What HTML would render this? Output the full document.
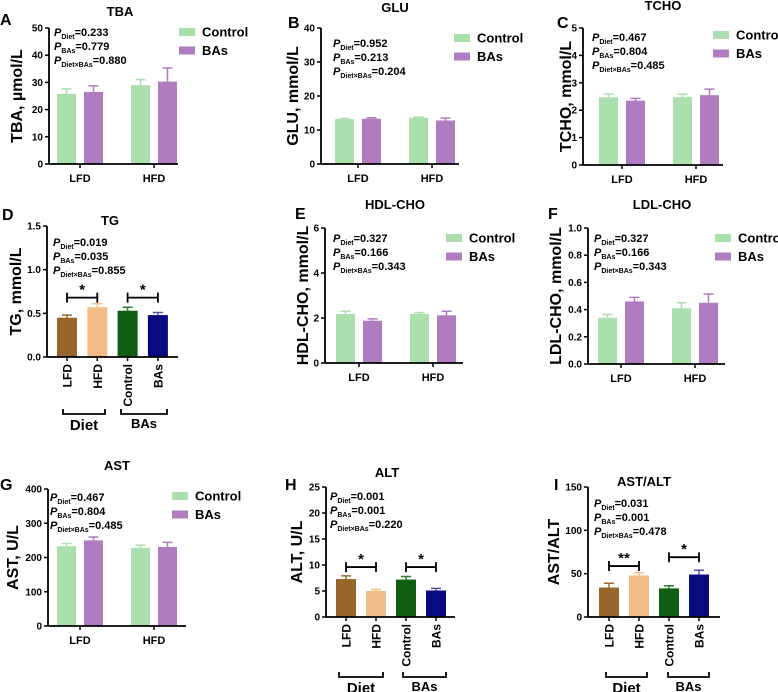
<!DOCTYPE html>
<html><head><meta charset="utf-8">
<style>
html,body{margin:0;padding:0;background:#fff;}
svg{display:block;font-family:"Liberation Sans",Arial,sans-serif;font-weight:bold;}
</style></head>
<body>
<svg id="fig" width="778" height="692" viewBox="0 0 778 692" xmlns="http://www.w3.org/2000/svg"></svg>
<script>
// ---- data arrays ----
const groupCats = ["LFD","HFD"];
const fourCats = ["LFD","HFD","Control","BAs"];
const seriesNames = ["Control","BAs"];
const tbaValues = [25.8,26.5,29.0,30.3];
const tbaErrors = [1.8,2.2,2.0,5.0];
const tbaTicks = [0,10,20,30,40,50];
const tbaP = ["0.233","0.779","0.880"];
const gluValues = [13.2,13.3,13.6,12.8];
const gluErrors = [0.2,0.3,0.2,0.7];
const gluTicks = [0,10,20,30,40];
const gluP = ["0.952","0.213","0.204"];
const tchoValues = [2.47,2.35,2.48,2.55];
const tchoErrors = [0.12,0.08,0.10,0.22];
const tchoTicks = [0,1,2,3,4,5];
const tchoP = ["0.467","0.804","0.485"];
const tgValues = [0.45,0.57,0.53,0.48];
const tgErrors = [0.03,0.04,0.04,0.03];
const tgTicks = ["0.0","0.5","1.0","1.5"];
const tgP = ["0.019","0.035","0.855"];
const hdlValues = [2.18,1.88,2.18,2.12];
const hdlErrors = [0.12,0.08,0.06,0.18];
const hdlTicks = [0,2,4,6];
const hdlP = ["0.327","0.166","0.343"];
const ldlValues = [0.34,0.46,0.41,0.45];
const ldlErrors = [0.025,0.03,0.04,0.065];
const ldlTicks = ["0.0","0.2","0.4","0.6","0.8","1.0"];
const ldlP = ["0.327","0.166","0.343"];
const astValues = [233,250,228,231];
const astErrors = [8,10,8,13];
const astTicks = [0,100,200,300,400];
const astP = ["0.467","0.804","0.485"];
const altValues = [7.3,5.0,7.2,5.1];
const altErrors = [0.6,0.3,0.6,0.4];
const altTicks = [0,5,10,15,20,25];
const altP = ["0.001","0.001","0.220"];
const ratioValues = [34,48,33,49];
const ratioErrors = [5,3,3,5];
const ratioTicks = [0,50,100,150];
const ratioP = ["0.031","0.001","0.478"];
const tgSig = [["*",0.68],["*",0.68]];
const altSig = [["*",9.6],["*",9.6]];
const ratioSig = [["**",58.8],["*",69]];

const NS="http://www.w3.org/2000/svg";
const svg=document.getElementById('fig');
function el(tag,attrs,parent,text){const e=document.createElementNS(NS,tag);for(const k in attrs)e.setAttribute(k,attrs[k]);if(text!==undefined)e.textContent=text;(parent||svg).appendChild(e);return e;}

const GREEN="#acdfae",PURPLE="#b07cc0";
const FOUR=["#98662a","#f2bc86","#0f5e14","#0a0a80"];
const FOURERR=["#9b6a2c","#f2c08e","#2f7a32","#5555a8"];

const panels=[
 {id:"tba",letter:"A",lx:0,ly:25,title:"TBA",tx:120,ty:16,yt:"TBA, µmol/L",ytx:22,ax:49,ay0:164,ay1:28,xend:178,vals:tbaValues,errs:tbaErrors,ticks:tbaTicks,p:tbaP,px:54,py:36,leg:[179,28],grouped:true,bx0:57},
 {id:"glu",letter:"B",lx:288,ly:28,title:"GLU",tx:395,ty:12,yt:"GLU, mmol/L",ytx:298,ax:321,ay0:164,ay1:28,xend:459,vals:gluValues,errs:gluErrors,ticks:gluTicks,p:gluP,px:333,py:47,leg:[454,34],grouped:true,bx0:335},
 {id:"tcho",letter:"C",lx:557,ly:28,title:"TCHO",tx:663,ty:10,yt:"TCHO, mmol/L",ytx:571,ax:583,ay0:165,ay1:28,xend:723,vals:tchoValues,errs:tchoErrors,ticks:tchoTicks,p:tchoP,px:592,py:41,leg:[713,31],grouped:true,bx0:599},
 {id:"tg",letter:"D",lx:2,ly:220,title:"TG",tx:110,ty:225,yt:"TG, mmol/L",ytx:21,ax:47,ay0:357,ay1:226,xend:178,vals:tgValues,errs:tgErrors,ticks:tgTicks,p:tgP,px:53,py:246,grouped:false,bx0:57,step:30.3,sig:tgSig,grp:[[63,105,414,"Diet",15],[121,167,414,"BAs",13]]},
 {id:"hdl",letter:"E",lx:295,ly:219,title:"HDL-CHO",tx:395,ty:209,yt:"HDL-CHO, mmol/L",ytx:308,ax:325,ay0:363,ay1:228,xend:463,vals:hdlValues,errs:hdlErrors,ticks:hdlTicks,p:hdlP,px:333,py:242,leg:[446,234],grouped:true,bx0:336},
 {id:"ldl",letter:"F",lx:548,ly:219,title:"LDL-CHO",tx:662,ty:209,yt:"LDL-CHO, mmol/L",ytx:561,ax:588,ay0:364,ay1:228,xend:725,vals:ldlValues,errs:ldlErrors,ticks:ldlTicks,p:ldlP,px:594,py:242,leg:[715,234],grouped:true,bx0:598},
 {id:"ast",letter:"G",lx:0,ly:490,title:"AST",tx:117,ty:470,yt:"AST, U/L",ytx:18,ax:48,ay0:626,ay1:489,xend:186,vals:astValues,errs:astErrors,ticks:astTicks,p:astP,px:50,py:501,leg:[172,492],grouped:true,bx0:57},
 {id:"alt",letter:"H",lx:285,ly:490,title:"ALT",tx:387,ty:477,yt:"ALT, U/L",ytx:302,ax:326,ay0:617,ay1:487,xend:455,vals:altValues,errs:altErrors,ticks:altTicks,p:altP,px:330,py:500,grouped:false,bx0:336,step:30,sig:altSig,grp:[[339,383,677,"Diet",15],[403,446,677,"BAs",13]]},
 {id:"ratio",letter:"I",lx:554,ly:490,title:"AST/ALT",tx:644,ty:486,yt:"AST/ALT",ytx:559,ax:588,ay0:617,ay1:487,xend:720,vals:ratioValues,errs:ratioErrors,ticks:ratioTicks,p:ratioP,px:594,py:507,grouped:false,bx0:599,step:30,sig:ratioSig,grp:[[606,647,677,"Diet",15],[668,709,677,"BAs",13]]}
];

panels.forEach(P=>{
  const g=el('g',{});
  
  
  const tmax=parseFloat(P.ticks[P.ticks.length-1]);
  const y=v=>P.ay0-(v/tmax)*(P.ay0-P.ay1);
  const bw=P.grouped?19:20;
  const bx=i=>P.grouped?(P.bx0+i*27+(i>=2?20:0)):(P.bx0+i*P.step);
  // letter
  const L=el('text',{x:P.lx,y:P.ly,'font-size':16},g,P.letter);
  
  const T=el('text',{x:P.tx,y:P.ty,'font-size':13,'text-anchor':'middle'},g,P.title);
  
  const ymid=(P.ay0+P.ay1)/2;
  const YT=el('text',{x:P.ytx,y:ymid,'font-size':16,'text-anchor':'middle',transform:`rotate(-90 ${P.ytx} ${ymid})`},g,P.yt);
  
  // bars
  P.vals.forEach((v,i)=>{
    const col=P.grouped?(i%2?PURPLE:GREEN):FOUR[i];
    const ecol=P.grouped?col:FOURERR[i];
    const x=bx(i),cx=x+bw/2,yt=y(v),ye=y(v+P.errs[i]);
    const r=el('rect',{x:x,y:yt,width:bw,height:P.ay0-yt,fill:col},g);
    
    const e=el('path',{d:`M${cx} ${yt}V${ye}M${cx-5} ${ye}H${cx+5}`,stroke:ecol,'stroke-width':1.5,fill:'none'},g);
    
  });
  // axes
  const ya=el('line',{x1:P.ax,y1:P.ay1,x2:P.ax,y2:P.ay0,stroke:'#000','stroke-width':1.8},g);
  
  const xa=el('line',{x1:P.ax,y1:P.ay0,x2:P.xend,y2:P.ay0,stroke:'#000','stroke-width':1.8},g);
  
  P.ticks.forEach(t=>{
    const yy=y(parseFloat(t));
    el('line',{x1:P.ax-4,y1:yy,x2:P.ax,y2:yy,stroke:'#000','stroke-width':1.5},g);
    const tl=el('text',{x:P.ax-6,y:yy+3.5,'font-size':10,'text-anchor':'end'},g,String(t));
    
  });
  // p values
  const subs=["Diet","BAs","Diet×BAs"];
  P.p.forEach((pv,k)=>{
    const t=el('text',{x:P.px,y:P.py+k*14,'font-size':11},g);
    
    el('tspan',{'font-style':'italic'},t,'P');
    el('tspan',{'font-size':7,dy:3},t,subs[k]);
    el('tspan',{dy:-3},t,'='+pv);
  });
  if(P.grouped){
    groupCats.forEach((c,k)=>{
      const cx=(bx(2*k)+bx(2*k+1)+bw)/2;
      el('line',{x1:cx,y1:P.ay0,x2:cx,y2:P.ay0+4,stroke:'#000','stroke-width':1.5},g);
      const xl=el('text',{x:cx,y:P.ay0+18,'font-size':11,'text-anchor':'middle'},g,c);
      
    });
    seriesNames.forEach((s,k)=>{
      const lg=el('g',{},g);
      
      el('rect',{x:P.leg[0],y:P.leg[1]+k*18.5,width:16,height:8,fill:k?PURPLE:GREEN},lg);
      el('text',{x:P.leg[0]+23,y:P.leg[1]+k*18.5+8.5,'font-size':13},lg,s);
    });
  } else {
    fourCats.forEach((c,i)=>{
      const cx=bx(i)+bw/2;
      el('line',{x1:cx,y1:P.ay0,x2:cx,y2:P.ay0+4,stroke:'#000','stroke-width':1.5},g);
      const xl=el('text',{x:cx+4.5,y:P.ay0+7,'font-size':12,'text-anchor':'end',transform:`rotate(-90 ${cx+4.5} ${P.ay0+7})`},g,c);
      
    });
    P.sig.forEach((s,k)=>{
      const x1=bx(2*k)+bw/2,x2=bx(2*k+1)+bw/2,yy=y(s[1]);
      const br=el('path',{d:`M${x1} ${yy}H${x2}M${x1} ${yy-5}V${yy+5}M${x2} ${yy-5}V${yy+5}`,stroke:'#000','stroke-width':1.8,fill:'none'},g);
      
      const st=el('text',{x:(x1+x2)/2,y:yy-3,'font-size':15,'text-anchor':'middle'},g,s[0]);
      
    });
    P.grp.forEach(gr=>{
      const gb=el('path',{d:`M${gr[0]} ${gr[2]-5}V${gr[2]}H${gr[1]}V${gr[2]-5}`,stroke:'#000','stroke-width':1.8,fill:'none'},g);
      
      const gt=el('text',{x:(gr[0]+gr[1])/2,y:gr[2]+(gr[4]===15?16:14),'font-size':gr[4],'text-anchor':'middle'},g,gr[3]);
      
    });
  }
});
</script>
</body></html>
